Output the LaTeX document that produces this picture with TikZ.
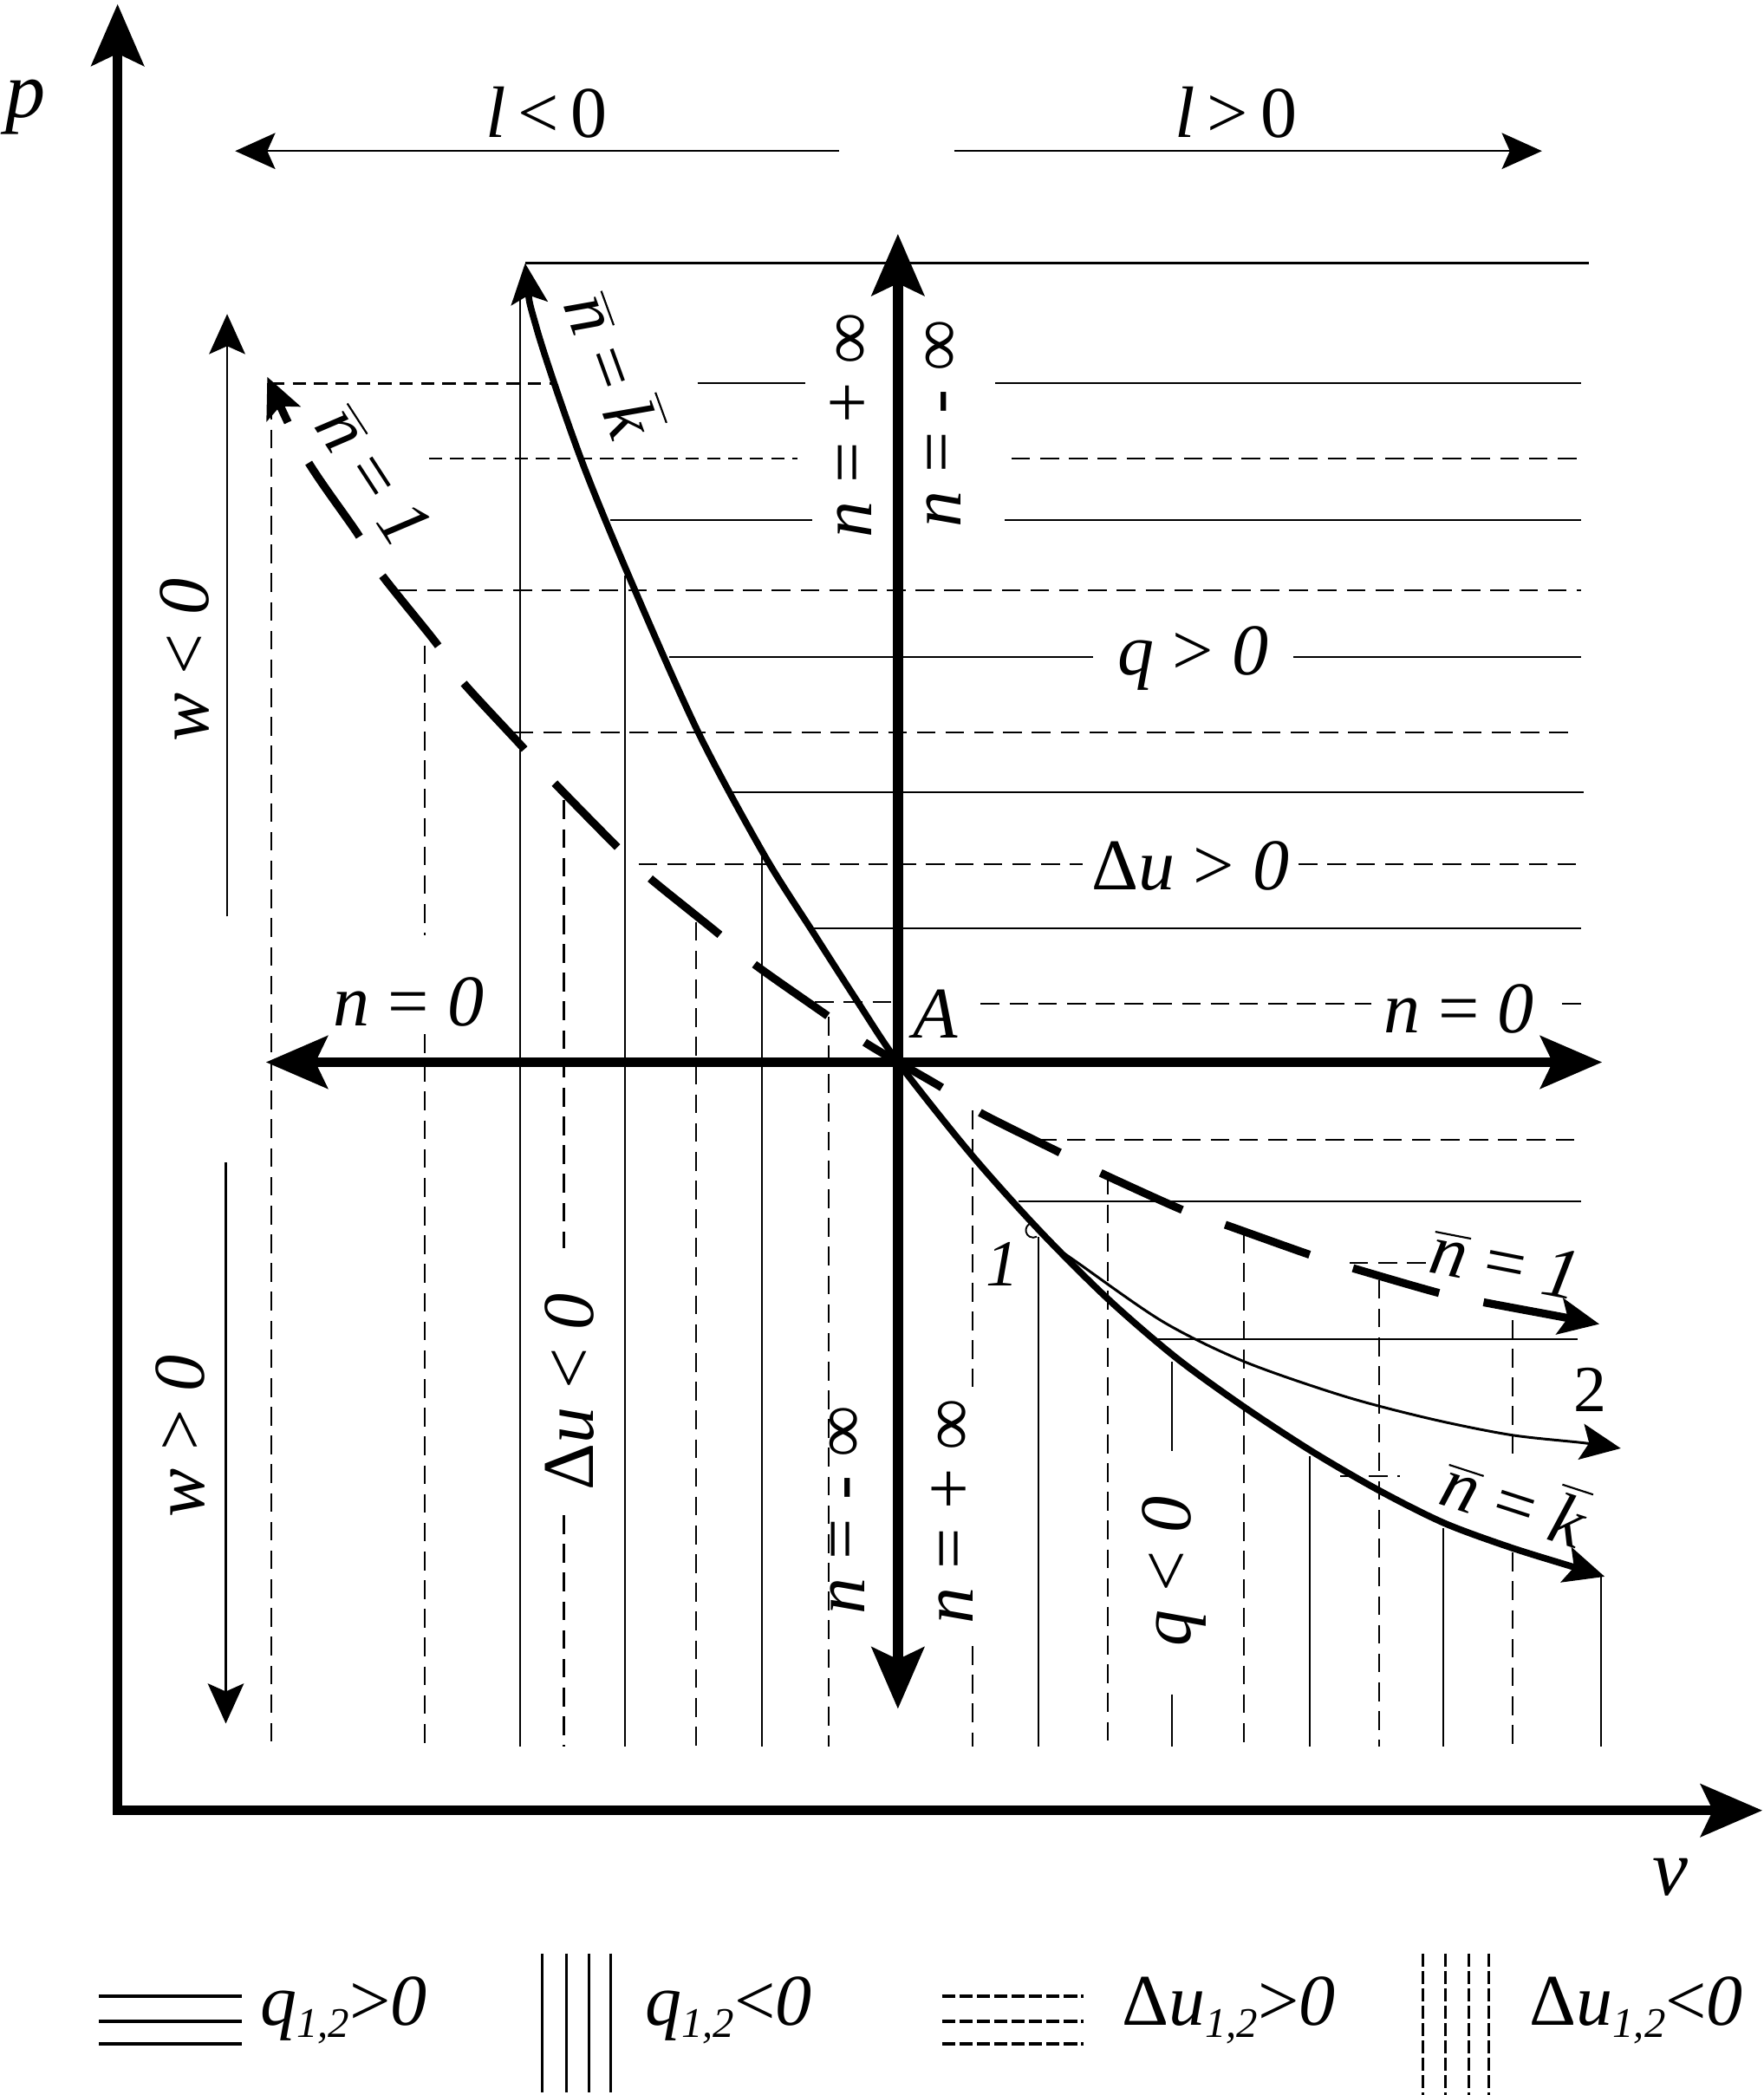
\documentclass[tikz,border=0pt]{standalone}
\usepackage{fontspec}
\setmainfont{Liberation Serif}
\usetikzlibrary{arrows.meta}

\newcommand{\nbar}{\ensuremath{\overline{\mbox{\itshape n}}}}
\newcommand{\kbar}{\ensuremath{\overline{\mbox{\itshape k}}}}
\newcommand{\lowidx}[1]{\raisebox{-0.35ex}{\fontsize{9}{10}\selectfont\itshape #1}}

\begin{document}
\begin{tikzpicture}[x=0.01cm, y=-0.01cm,
        AxTip/.tip={Stealth[length=4.6mm, width=3.9mm, inset=0.9mm]},
        CurveTip/.tip={Stealth[length=3mm, width=2.7mm, inset=0.6mm]},
        axis/.style={line width=2.1pt},
        curvek/.style={line width=1.4pt},
        curveone/.style={line width=1.7pt, dash pattern=on 6.7mm off 3.4mm},
        curvetwo/.style={line width=0.55pt},
        hint/.style={line width=0.4pt},
        qline/.style={line width=0.35pt},
        qtop/.style={line width=0.55pt},
        uline/.style={line width=0.4pt, dash pattern=on 1.4mm off 0.75mm},
        ufine/.style={line width=0.4pt, dash pattern=on 1mm off 0.6mm},
        legq/.style={line width=0.75pt},
        legu/.style={line width=0.75pt, dash pattern=on 1mm off 0.3mm},
        lab/.style={font=\fontsize{15.5}{18}\selectfont, inner sep=0pt},
        numlab/.style={font=\fontsize{14}{16}\selectfont, inner sep=0pt},
        axlab/.style={font=\fontsize{17}{20}\selectfont\itshape, inner sep=0pt}
    ]
        \useasboundingbox (0,0) rectangle (1320,1568);

        % Frame axes p, v
        \coordinate (P) at (88,3);
        \coordinate (V) at (1319,1355);
        \draw[axis, AxTip-AxTip] (P) |- (V);
        \node[axlab] (plab) at (19,80) {p};
        \node[axlab] (vlab) at (1250,1405) {v};

        % Signs of l
        \draw[hint, -CurveTip] (628,113) -- (176,113);
        \draw[hint, -CurveTip] (714,113) -- (1154,113);
        \node[lab] (lneg) at (409,84) {\textit{l}\,<\,0};
        \node[lab] (lpos) at (925,84) {\textit{l}\,>\,0};

        % Signs of w
        \draw[hint, -CurveTip] (170,686) -- (170,235);
        \draw[hint, -CurveTip] (169,870) -- (169,1290);
        \node[lab, rotate=90] (wneg) at (138,494) {\textit{w} < \textit{0}};
        \node[lab, rotate=90] (wpos) at (135,1075) {\textit{w} > \textit{0}};

        % Horizontal lines, upper right
        \draw[qtop] (393,197) -- (1189,197);
        \draw[ufine] (203,287) -- (415,287);
        \draw[qline] (522,287) -- (603,287);
        \draw[qline] (745,287) -- (1183,287);
        \draw[ufine] (321,343) -- (597,343);
        \draw[uline] (757,343) -- (1186,343);
        \draw[qline] (457,389) -- (608,389);
        \draw[qline] (752,389) -- (1183,389);
        \draw[uline] (298,442) -- (1183,442);
        \draw[qline] (501,492) -- (818,492);
        \draw[qline] (968,492) -- (1183,492);
        \draw[uline] (385,548) -- (1180,548);
        \draw[qline] (547,593) -- (1185,593);
        \draw[uline] (478,647) -- (810,647);
        \draw[uline] (972,647) -- (1180,647);
        \draw[qline] (606,695) -- (1183,695);
        \draw[uline] (610,750) -- (668,750);
        \draw[uline] (734,751) -- (1026,751);
        \draw[uline] (1169,751) -- (1186,751);

        % Horizontal lines, lower right
        \draw[uline] (777,853) -- (1184,853);
        \draw[qline] (762,899) -- (1183,899);
        \draw[uline] (1010,945) -- (1069,945);
        \draw[qline] (867,1002) -- (1181,1002);
        \draw[uline] (1003,1105) -- (1048,1105);

        % Vertical lines, right
        \draw[uline] (728,831) -- (728,1038);
        \draw[uline] (728,1232) -- (728,1307);
        \draw[qline] (777,926) -- (777,1307);
        \draw[uline] (829,880) -- (829,1307);
        \draw[qline] (877,1019) -- (877,1086);
        \draw[qline] (877,1268) -- (877,1307);
        \draw[uline] (931,924) -- (931,1307);
        \draw[qline] (980,1090) -- (980,1307);
        \draw[uline] (1032,958) -- (1032,1307);
        \draw[qline] (1080,1144) -- (1080,1307);
        \draw[uline] (1132,988) -- (1132,1092);
        \draw[uline] (1132,1162) -- (1132,1307);
        \draw[qline] (1198,1180) -- (1198,1307);

        % Vertical lines, left
        \draw[uline] (203,300) -- (203,1307);
        \draw[uline] (318,483) -- (318,700);
        \draw[uline] (318,774) -- (318,1307);
        \draw[qline] (389,222) -- (389,1307);
        \draw[uline] (422,599) -- (422,934);
        \draw[uline] (422,1134) -- (422,1307);
        \draw[qline] (468,431) -- (468,1307);
        \draw[uline] (521,690) -- (521,1307);
        \draw[qline] (570,638) -- (570,1307);
        \draw[uline] (620,761) -- (620,1307);

        % Axes through A
        \coordinate (A) at (672,795);
        \coordinate (Aw) at (199,795);
        \coordinate (Ae) at (1199,795);
        \coordinate (An) at (672,175);
        \coordinate (As) at (672,1279);
        \draw[axis, AxTip-AxTip] (Aw) -- (Ae);
        \draw[axis, AxTip-AxTip] (An) -- (As);
        \node[lab] (Alab) at (700,759) {\textit{A}};

        % Curve n = k
        \draw[curvek, CurveTip-CurveTip] plot[smooth] coordinates {(393,197) (402,247) (435,344) (474,439)
            (523,549) (572,640) (608,697) (642,750) (672,795) (726,863) (777,920) (829,972)
            (880,1016) (931,1053) (983,1087) (1033,1116) (1081,1140) (1130,1158) (1175,1172) (1201,1180)};

        % Curve n = 1
        \draw[curveone, dash phase=3.8mm, -CurveTip] plot[smooth] coordinates {(672,795) (647,780) (619,760)
            (565,722) (538,699) (486,657) (462,634) (414,585) (391,559) (345,509) (327,482)
            (284,428) (268,400) (229,343) (200,282)};
        \draw[curveone, dash phase=2.9mm, -CurveTip] plot[smooth] coordinates {(672,795) (705,814) (734,833)
            (794,863) (824,878) (886,906) (918,917) (980,939) (1012,949) (1078,968) (1112,975)
            (1171,986) (1197,991)};

        % Curve 2
        \draw[curvetwo, -CurveTip] plot[smooth] coordinates {(785,930) (805,944) (870,989) (931,1019)
            (1006,1045) (1071,1062) (1131,1074) (1186,1080) (1213,1084)};
        \draw[qline] (776,916) arc[start angle=60, end angle=300, radius=0.55mm];
        \node[numlab] (one) at (750,946) {\textit{1}};
        \node[numlab] (two) at (1190,1040) {2};

        % Labels of the curves
        \node[lab, rotate=-70] (nkup) at (461,272) {\nbar{} = \kbar};
        \node[lab, rotate=-57] (n1up) at (280,356) {\nbar{} = \textit{1}};
        \node[lab, rotate=-11] (n1dn) at (1127,945) {\nbar{} = \textit{1}};
        \node[lab, rotate=-18] (nkdn) at (1134,1121) {\nbar{} = \kbar};

        % Labels of n on the axes
        \node[lab, rotate=90] (ninfa) at (637,318) {\textit{n} = + ∞};
        \node[lab, rotate=90] (nminfa) at (706,317) {\textit{n} = - ∞};
        \node[lab, rotate=90] (nminfb) at (634,1130) {\textit{n} = - ∞};
        \node[lab, rotate=90] (ninfb) at (713,1131) {\textit{n} = + ∞};
        \node[lab] (nzl) at (306,750) {\textit{n} = \textit{0}};
        \node[lab] (nzr) at (1092,755) {\textit{n} = \textit{0}};

        % Labels of the regions
        \node[lab] (qpos) at (893,493) {\textit{q} > \textit{0}};
        \node[lab] (upos) at (891,648) {Δ\textit{u} > \textit{0}};
        \node[lab, rotate=90] (uneg) at (426,1042) {Δ\textit{u} < \textit{0}};
        \node[lab, rotate=90] (qneg) at (879,1176) {\textit{q} < \textit{0}};

        % Legend
        \draw[legq] (74,1494) -- (181,1494);
        \draw[legq] (74,1513) -- (181,1513);
        \draw[legq] (74,1530) -- (181,1530);
        \node[lab, anchor=base west] (legqp) at (194,1516) {\textit{q}\lowidx{1,2}>\textit{0}};
        \draw[qtop] (406,1462) -- (406,1566);
        \draw[qtop] (424,1462) -- (424,1566);
        \draw[qtop] (441,1462) -- (441,1566);
        \draw[qtop] (457,1462) -- (457,1566);
        \node[lab, anchor=base west] (legqn) at (482,1516) {\textit{q}\lowidx{1,2}<\textit{0}};
        \draw[legu] (705,1494) -- (811,1494);
        \draw[legu] (705,1513) -- (811,1513);
        \draw[legu] (705,1530) -- (811,1530);
        \node[lab, anchor=base west] (legup) at (839,1516) {Δ\textit{u}\lowidx{1,2}>\textit{0}};
        \draw[legu, line width=0.55pt] (1065,1462) -- (1065,1568);
        \draw[legu, line width=0.55pt] (1082,1462) -- (1082,1568);
        \draw[legu, line width=0.55pt] (1099,1462) -- (1099,1568);
        \draw[legu, line width=0.55pt] (1114,1462) -- (1114,1568);
        \node[lab, anchor=base west] (legun) at (1144,1516) {Δ\textit{u}\lowidx{1,2}<\textit{0}};
    \end{tikzpicture}
\end{document}
